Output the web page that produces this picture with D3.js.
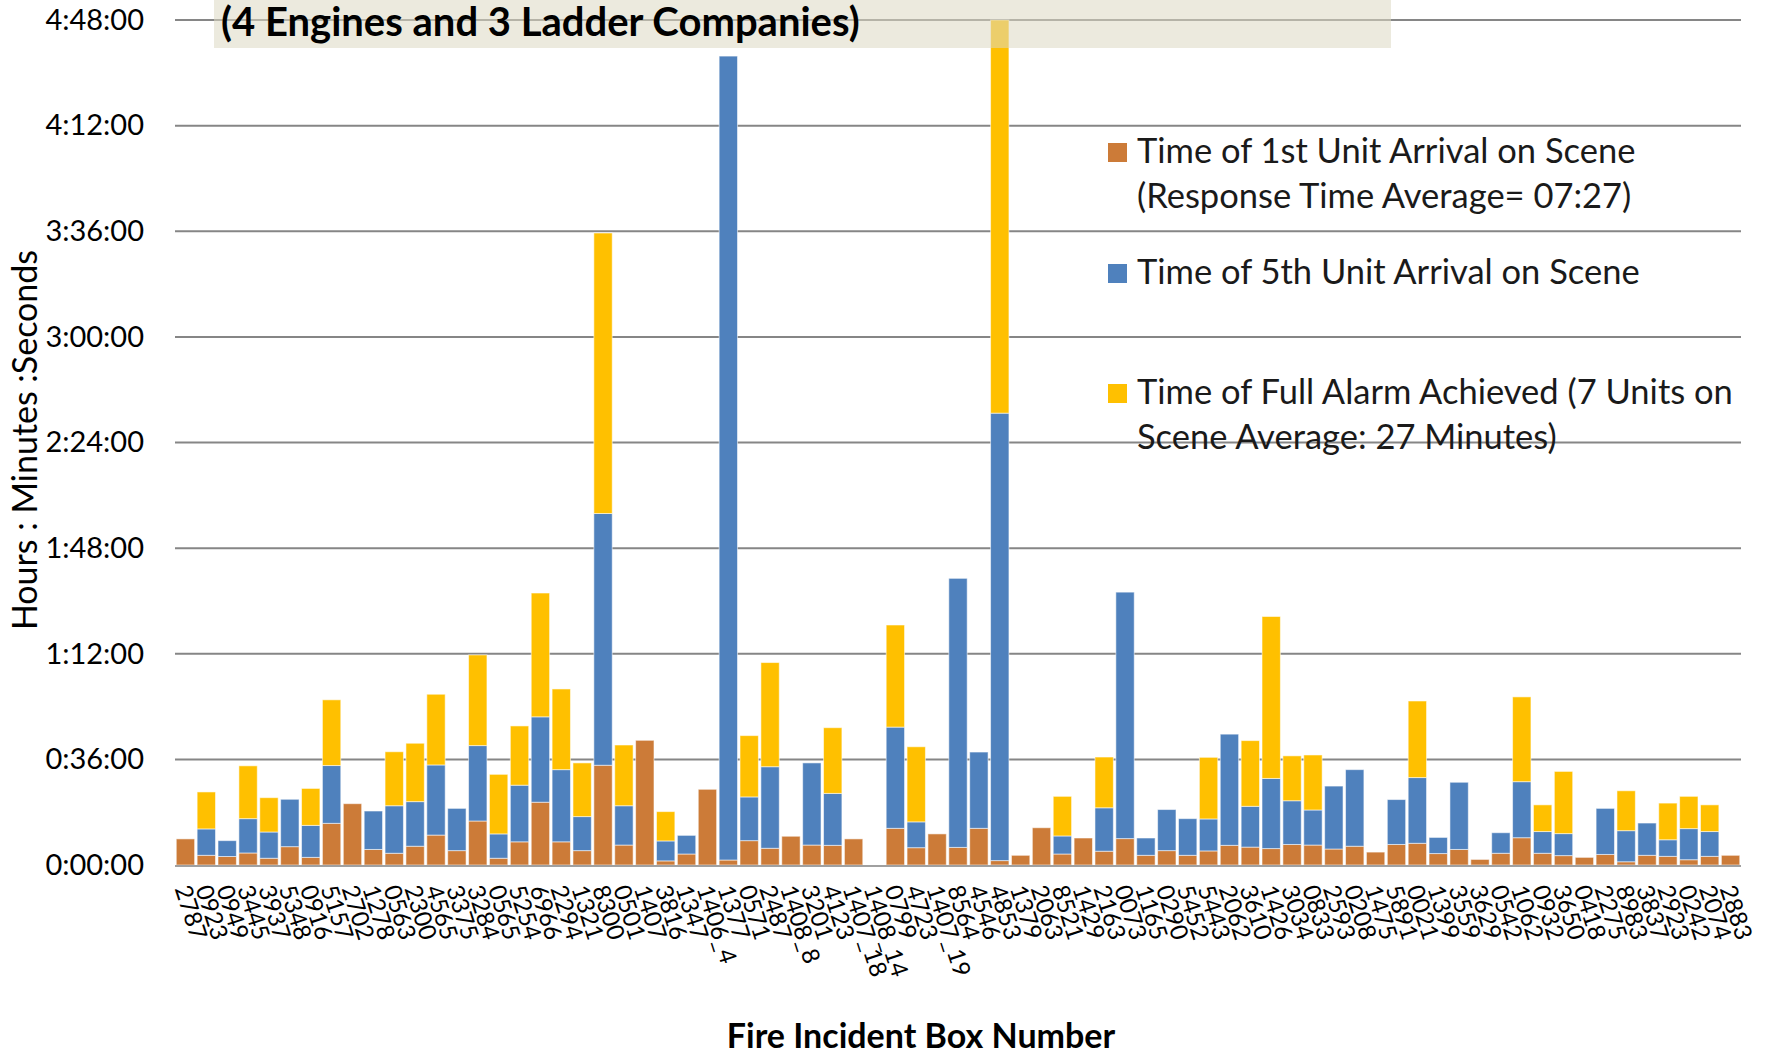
<!DOCTYPE html>
<html>
<head>
<meta charset="utf-8">
<script src="https://cdn.jsdelivr.net/npm/d3@7"></script>
<style>
  html, body { margin: 0; padding: 0; background: #fff; }
  svg { display: block; font-family: Lato, "Open Sans", sans-serif; }
</style>
</head>
<body>
<svg id="chart" width="1766" height="1054"></svg>
<script>
// Fire incident box numbers, in the order they are plotted
const boxNumbers = ["2787","0923","0949","3445","3937","5348","0916","5157","2702","1278",
  "0563","2300","4565","3375","3284","0565","5254","6966","2294","1321",
  "8300","0501","1407","3816","1347","1406_4","1377","0571","2487","1408_8",
  "3201","4123","1407_18","1408_14","0799","4723","1407_19","8564","4546","4853",
  "1379","2063","8521","1429","2163","0073","1165","0290","5452","5443",
  "2062","3610","1426","3034","0833","2593","0208","1475","5891","0021",
  "1399","3559","3629","0542","1062","0932","3650","0418","2275","8983",
  "3837","2923","0242","2074","2883"];

// Stacked segments, in minutes
// time until the 1st unit is on scene
const firstUnit = [8.9,3.3,2.9,4.1,2.3,6.25,2.6,14.2,20.9,5.3,
  4.0,6.4,10.2,4.9,15.0,2.3,7.9,21.4,7.9,4.9,
  34.0,6.8,42.5,1.4,3.75,25.8,1.7,8.3,5.7,9.8,
  6.8,6.7,8.9,0,12.5,5.9,10.6,6.0,12.5,1.5,
  3.3,12.7,3.75,9.2,4.7,9.0,3.3,4.9,3.3,4.8,
  6.7,6.1,5.6,7.0,6.8,5.45,6.4,4.4,7.0,7.4,
  3.9,5.3,1.9,4.0,9.3,4.0,3.2,2.6,3.6,1.1,
  3.3,2.95,1.8,2.95,3.3];
// additional time until the 5th unit is on scene
const fifthUnit = [0,9.0,5.4,11.7,8.95,16.15,10.9,19.7,0,13.1,
  16.2,15.2,23.9,14.4,25.7,8.3,19.3,29.1,24.6,11.6,
  85.8,13.4,0,6.8,6.35,0,274.0,14.9,27.8,0,
  28.0,17.7,0,0,34.5,8.8,0,91.7,26.0,152.5,
  0,0,6.15,0,14.8,84.0,5.9,14.0,12.5,10.9,
  37.9,13.9,23.9,14.9,11.95,21.45,26.1,0,15.3,22.4,
  5.5,22.9,0,7.0,19.1,7.4,7.5,0,15.7,10.6,
  11.0,5.65,10.6,8.45,0];
// additional time until the full alarm (7 units) is on scene
const fullAlarm = [0,12.6,0,18.0,11.7,0,12.6,22.4,0,0,
  18.4,19.9,24.1,0,30.9,20.3,20.2,42.2,27.5,18.3,
  95.6,20.7,0,10.0,0,0,0,20.9,35.5,0,
  0,22.4,0,0,34.8,25.6,0,0,0,134.0,
  0,0,13.5,0,17.3,0,0,0,0,21.0,
  0,22.4,55.2,15.3,18.75,0,0,0,0,26.1,
  0,0,0,0,28.9,9.1,21.2,0,0,13.6,
  0,12.5,11.0,9.1,0];

const seriesKeys = ["first", "fifth", "full"];
const seriesColors = ["#cc7b38", "#4f81bd", "#ffc000"];
const legendLines = [
  ["Time of 1st Unit Arrival on Scene", "(Response Time Average= 07:27)"],
  ["Time of 5th Unit Arrival on Scene"],
  ["Time of Full Alarm Achieved (7 Units on", "Scene Average: 27 Minutes)"]
];
const tickMinutes = [0, 36, 72, 108, 144, 180, 216, 252, 288];
const titleText = "(4 Engines and 3 Ladder Companies)";
const xTitle = "Fire Incident Box Number";
const yTitle = "Hours : Minutes :Seconds";

const FONT = "Lato, 'Open Sans', sans-serif";

const rows = boxNumbers.map((b, i) => ({
  box: b, first: firstUnit[i], fifth: fifthUnit[i], full: fullAlarm[i]
}));

const svg = d3.select("#chart");
const plot = { left: 175, right: 1741, top: 20, bottom: 865 };

const x = d3.scaleBand()
  .domain(boxNumbers)
  .range([plot.left, plot.right])
  .paddingInner(0.12)
  .paddingOuter(0.06);

const y = d3.scaleLinear()
  .domain([0, 288])
  .range([plot.bottom, plot.top]);

const fmt = m => {
  const h = Math.floor(m / 60), mm = m % 60;
  return `${h}:${String(mm).padStart(2, "0")}:00`;
};

// horizontal gridlines
svg.append("g")
  .selectAll("line")
  .data(tickMinutes.filter(t => t > 0))
  .join("line")
  .attr("x1", plot.left).attr("x2", plot.right)
  .attr("y1", d => y(d)).attr("y2", d => y(d))
  .attr("stroke", "#868686").attr("stroke-width", 2);

// y axis tick labels
const yAxis = d3.axisLeft(y).tickValues(tickMinutes).tickFormat(fmt).tickSize(0).tickPadding(0);
const yG = svg.append("g").attr("transform", `translate(${plot.left - 31},0)`).call(yAxis);
yG.select(".domain").remove();
yG.selectAll("text")
  .attr("font-family", FONT)
  .attr("font-size", 29).attr("fill", "#000");

// stacked bars
const stacked = d3.stack().keys(seriesKeys)(rows);

svg.append("clipPath").attr("id", "plotclip")
  .append("rect").attr("x", plot.left).attr("y", plot.top - 30)
  .attr("width", plot.right - plot.left).attr("height", plot.bottom - plot.top + 30);

svg.append("g").attr("clip-path", "url(#plotclip)")
  .selectAll("g")
  .data(stacked)
  .join("g")
  .attr("fill", (d, i) => seriesColors[i])
  .selectAll("rect")
  .data(d => d.filter(s => s[1] - s[0] > 0))
  .join("rect")
  .attr("x", d => x(d.data.box))
  .attr("width", x.bandwidth())
  .attr("y", d => y(Math.min(d[1], 288)))
  .attr("height", d => y(d[0]) - y(Math.min(d[1], 288)))
  .attr("stroke", "rgba(255,255,255,0.55)")
  .attr("stroke-width", 1);

// category axis line
svg.append("line")
  .attr("x1", plot.left).attr("x2", plot.right)
  .attr("y1", plot.bottom + 1).attr("y2", plot.bottom + 1)
  .attr("stroke", "#a0a0a0").attr("stroke-width", 2);

// category labels, rotated
svg.append("g")
  .selectAll("text")
  .data(boxNumbers)
  .join("text")
  .attr("transform", d => `translate(${x(d) + x.bandwidth() / 2 - 3},${plot.bottom + 21}) rotate(72)`)
  .attr("dy", "0.35em")
  .attr("text-anchor", "start")
  .attr("font-family", FONT)
  .attr("font-size", 24)
  .attr("fill", "#000")
  .text(d => d);

// title band
svg.append("rect")
  .attr("x", 214).attr("y", 0).attr("width", 1177).attr("height", 48)
  .attr("fill", "#ddd9c3").attr("fill-opacity", 0.55);
svg.append("text")
  .attr("x", 221).attr("y", 36)
  .attr("font-family", FONT)
  .attr("font-weight", 700).attr("font-size", 40).attr("fill", "#000")
  .text(titleText);

// axis titles
svg.append("text")
  .attr("transform", "translate(37,440) rotate(-90)")
  .attr("text-anchor", "middle")
  .attr("font-family", FONT)
  .attr("font-size", 34).attr("fill", "#000")
  .text(yTitle);
svg.append("text")
  .attr("x", 921).attr("y", 1048)
  .attr("text-anchor", "middle")
  .attr("font-family", FONT)
  .attr("font-weight", 700).attr("font-size", 34).attr("fill", "#000")
  .text(xTitle);

// legend
const legendTops = [143, 264, 384];
const legend = svg.append("g");
legendLines.forEach((lines, i) => {
  legend.append("rect")
    .attr("x", 1108).attr("y", legendTops[i]).attr("width", 19).attr("height", 19)
    .attr("fill", seriesColors[i]);
  lines.forEach((t, j) => {
    legend.append("text")
      .attr("x", 1137).attr("y", legendTops[i] + 20 + j * 45)
      .attr("font-family", FONT)
      .attr("font-size", 34.5).attr("fill", "#1a1a1a")
      .text(t);
  });
});
</script>
</body>
</html>
